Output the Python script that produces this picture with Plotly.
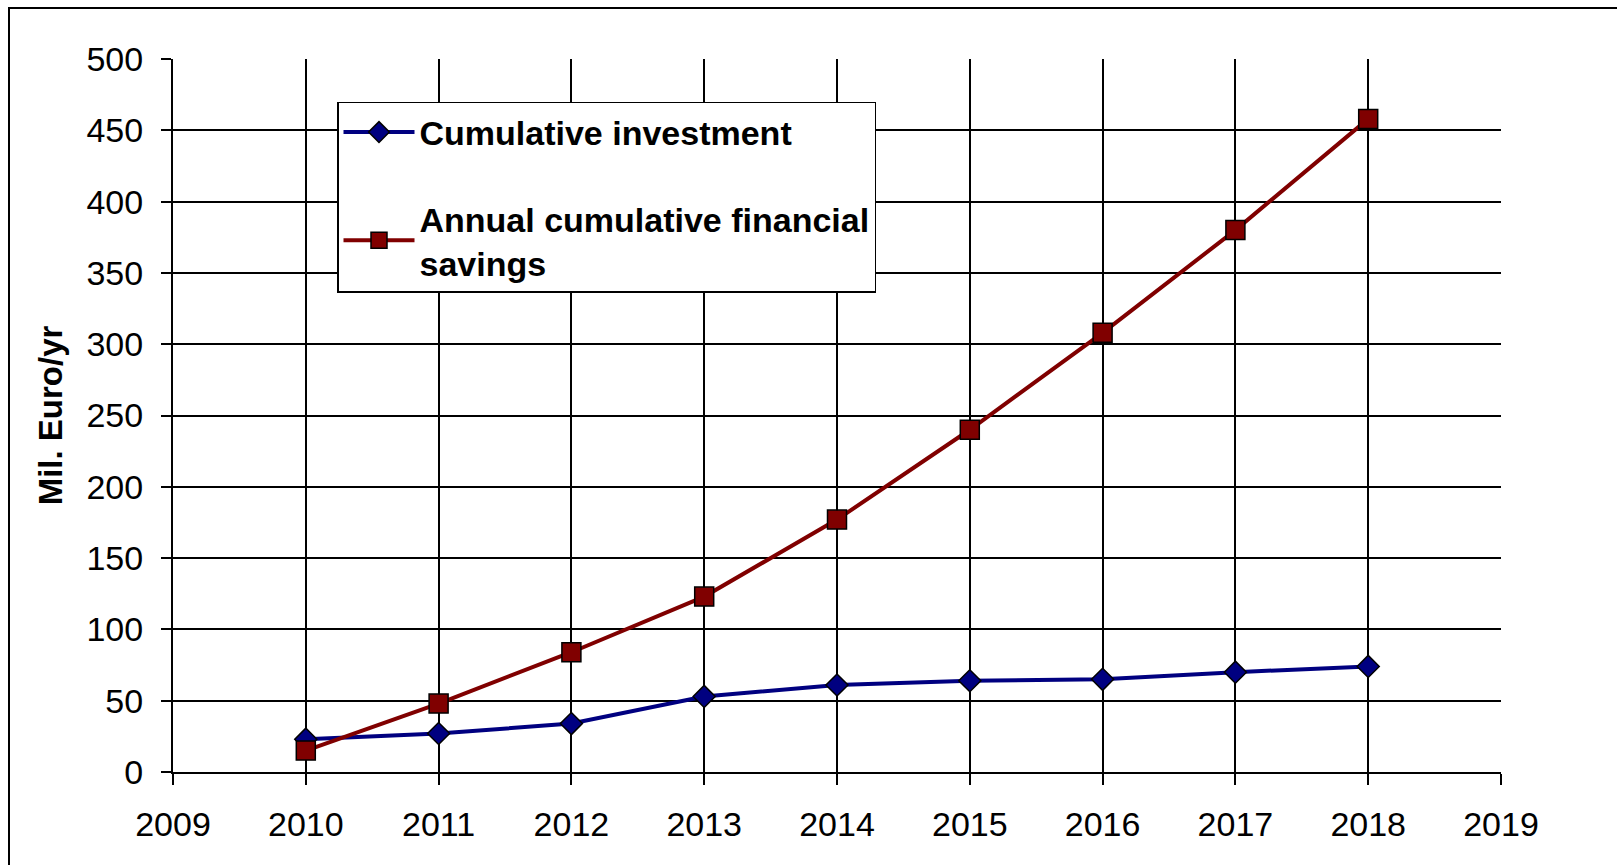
import plotly.graph_objects as go

# Data
years = [2010, 2011, 2012, 2013, 2014, 2015, 2016, 2017, 2018]
cumulative_investment = [23, 27, 34, 53, 61, 64, 65, 70, 74]
annual_cumulative_savings = [15, 48, 84, 123, 177, 240, 308, 380, 458]

x_ticks = list(range(2009, 2020))
y_ticks = list(range(0, 501, 50))

FONT = "Arial, 'Liberation Sans', sans-serif"
FS = 34
W, H = 1617, 865
ML, MR, MT, MB = 173, 116, 59, 92.5

fig = go.Figure()

fig.add_trace(go.Scatter(
    x=years, y=cumulative_investment, mode="lines+markers",
    name="<b>Cumulative investment</b>",
    legendgroup="a",
    line=dict(color="#000080", width=4),
    marker=dict(symbol="diamond", size=17, color="#000080",
                line=dict(color="black", width=1.5)),
))
fig.add_trace(go.Scatter(
    x=years, y=annual_cumulative_savings, mode="lines+markers",
    name="<b>Annual cumulative financial<br>savings</b>",
    legendgroup="b",
    line=dict(color="#800000", width=4),
    marker=dict(symbol="square", size=19, color="#800000",
                line=dict(color="black", width=1.5)),
))

pw = W - ML - MR
ph = H - MT - MB

# Outer chart frame
fig.add_shape(type="rect", xref="paper", yref="paper",
              x0=(9 - ML) / pw, x1=(W + 20 - ML) / pw,
              y0=(H - MB - (H + 20)) / ph, y1=(H - MB - 8) / ph,
              line=dict(color="black", width=2), layer="below")

fig.update_layout(
    width=W, height=H,
    margin=dict(l=ML, r=MR, t=MT, b=MB, pad=0),
    paper_bgcolor="white", plot_bgcolor="white",
    font=dict(family=FONT, size=FS, color="black"),
    showlegend=True,
    legend=dict(
        x=(337 - ML) / pw, y=(H - MB - 102) / ph,
        xanchor="left", yanchor="top",
        bgcolor="white", bordercolor="black", borderwidth=1.5,
        font=dict(family=FONT, size=FS, color="black"),
        tracegroupgap=39, traceorder="grouped",
        itemwidth=71,
    ),
    xaxis=dict(
        range=[2009, 2019], tickvals=x_ticks, ticktext=[str(v) for v in x_ticks],
        showgrid=True, gridcolor="black", gridwidth=1.5,
        showline=True, linecolor="black", linewidth=2, mirror=False,
        ticks="outside", ticklen=11, tickwidth=1.5, tickcolor="black",
        zeroline=False, ticklabelstandoff=10,
        tickfont=dict(family=FONT, size=FS, color="black"),
    ),
    yaxis=dict(
        range=[0, 500], tickvals=y_ticks,
        showgrid=True, gridcolor="black", gridwidth=1.5,
        showline=True, linecolor="black", linewidth=2,
        ticks="outside", ticklen=10, tickwidth=1.5, tickcolor="black",
        zeroline=False, ticklabelstandoff=11,
        tickfont=dict(family=FONT, size=FS, color="black"),
        title=dict(text="<b>Mil. Euro/yr</b>", standoff=14,
                   font=dict(family=FONT, size=33, color="black")),
    ),
)

fig.write_html("out.html")
